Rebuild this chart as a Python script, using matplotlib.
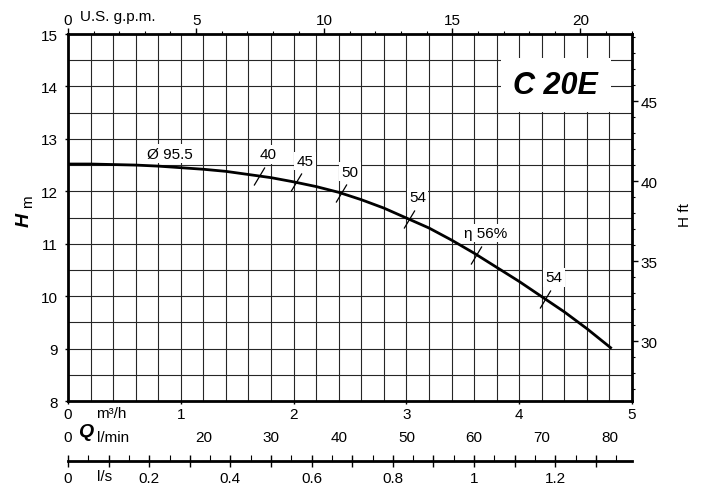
import numpy as np
import matplotlib
matplotlib.use("Agg")
import matplotlib.pyplot as plt
from matplotlib.ticker import FixedLocator, MultipleLocator, FuncFormatter

plt.rcParams['font.family'] = ['Liberation Sans', 'DejaVu Sans']
plt.rcParams['font.size'] = 11

# pump curve (Q in m3/h, H in m)
flow_m3h = [0, 0.2, 0.4, 0.6, 0.8, 1.0, 1.2, 1.4, 1.6, 1.8, 2.0, 2.2, 2.4,
            2.6, 2.8, 3.0, 3.2, 3.4, 3.6, 3.8, 4.0, 4.2, 4.4, 4.6, 4.82]
head_m = [12.52, 12.52, 12.51, 12.50, 12.48, 12.45, 12.42, 12.38, 12.32, 12.26,
          12.18, 12.09, 11.98, 11.84, 11.68, 11.49, 11.30, 11.07, 10.82, 10.55,
          10.28, 9.99, 9.70, 9.38, 9.0]

# efficiency marks on the curve
eff_flow = [1.69, 2.02, 2.42, 3.02, 3.62, 4.23]
eff_labels = ["40", "45", "50", "54", "η 56%", "54"]

impeller_label = "Ø 95.5"
impeller_flow = 0.9
model_name = "C 20E"

lmin_ticks = [0, 20, 30, 40, 50, 60, 70, 80]
gpm_ticks = [0, 5, 10, 15, 20]
ft_ticks = [30, 35, 40, 45]

W, H = 708, 489
fig = plt.figure(figsize=(W / 100, H / 100), dpi=100)
ax = fig.add_axes([68 / W, 1 - 402 / H, (632 - 68) / W, (402 - 35) / H])

ax.set_xlim(0, 5)
ax.set_ylim(8, 15)

# grid
for q in np.arange(0.2, 5.0, 0.2):
    ax.axvline(q, color='#262626', lw=0.8, zorder=1)
for h in np.arange(8.5, 15.0, 0.5):
    ax.axhline(h, color='#262626', lw=0.8, zorder=1)

ax.plot(flow_m3h, head_m, color='black', lw=2.0, zorder=4, solid_capstyle='butt')

# efficiency ticks + labels
eff_head = np.interp(eff_flow, flow_m3h, head_m)
ax.plot(eff_flow, eff_head, linestyle='none', marker=[(-0.6, -1), (0.6, 1)],
        ms=13, mec='black', mfc='none', mew=0.9, zorder=5)
for q, h, lab in zip(eff_flow, eff_head, eff_labels):
    ax.annotate(lab, (q, h), xytext=(6.5, 15.5), textcoords='offset points',
                ha='center', va='center', zorder=6,
                bbox=dict(boxstyle='square,pad=0.15', fc='white', ec='none'))

ax.annotate(impeller_label, (impeller_flow, np.interp(impeller_flow, flow_m3h, head_m)),
            xytext=(0, 9.5), textcoords='offset points', ha='center', va='center',
            zorder=6, bbox=dict(boxstyle='square,pad=0.15', fc='white', ec='none'))

ax.text(0.865, 0.861, model_name, transform=ax.transAxes, ha='center', va='center',
        fontsize=22, fontweight='bold', fontstyle='italic',
        zorder=6, bbox=dict(boxstyle='square,pad=0.4', fc='white', ec='none'))

for s in ax.spines.values():
    s.set_linewidth(2.0)
    s.set_zorder(7)

ax.set_xticks(range(0, 6))
ax.set_yticks(range(8, 16))
ax.tick_params(axis='x', length=2.5, width=1, pad=2)
ax.tick_params(axis='y', length=2.5, width=1, pad=5)

# top: U.S. g.p.m.
gpm = ax.secondary_xaxis('top', functions=(lambda q: q * 4.4029, lambda g: g / 4.4029))
gpm.xaxis.set_major_locator(FixedLocator(gpm_ticks))
gpm.xaxis.set_minor_locator(MultipleLocator(1))
gpm.tick_params(which='major', length=4, width=1, pad=1)
gpm.tick_params(which='minor', length=2.5, width=0.8)
gpm.spines['top'].set_visible(False)

# right: H ft
ft = ax.secondary_yaxis('right', functions=(lambda h: h * 3.28084, lambda f: f / 3.28084))
ft.yaxis.set_major_locator(FixedLocator(ft_ticks))
ft.yaxis.set_minor_locator(MultipleLocator(1))
ft.tick_params(which='major', length=4.5, width=1, pad=1.5)
ft.tick_params(which='minor', length=2.5, width=0.8)
ft.spines['right'].set_visible(False)

# l/min row
lmin = ax.secondary_xaxis(-0.071, functions=(lambda q: q * 1000 / 60, lambda l: l * 60 / 1000))
lmin.xaxis.set_major_locator(FixedLocator(lmin_ticks))
lmin.tick_params(length=0, pad=2)
lmin.spines['bottom'].set_visible(False)

# l/s row
ls = ax.secondary_xaxis(-0.163, functions=(lambda q: q / 3.6, lambda l: l * 3.6))
ls.xaxis.set_major_locator(MultipleLocator(0.1))
ls.xaxis.set_minor_locator(MultipleLocator(0.05))
ls.xaxis.set_major_formatter(FuncFormatter(
    lambda v, p: ('%g' % round(v, 1)) if round(v * 10) % 2 == 0 else ''))
ls.tick_params(which='major', direction='inout', length=8, width=1, pad=3)
ls.tick_params(which='minor', direction='in', length=4, width=0.8)
ls.spines['bottom'].set_linewidth(2.0)

# axis titles
def fx(px):
    return px / W

def fy(py):
    return 1 - py / H

fig.text(fx(80), fy(17), "U.S. g.p.m.", ha='left', va='center')
fig.text(fx(24), fy(220), "H", rotation=90, ha='center', va='center',
         fontsize=14, fontweight='bold', fontstyle='italic')
fig.text(fx(28), fy(202), "m", rotation=90, ha='center', va='center')
fig.text(fx(685), fy(215), "H ft", rotation=90, ha='center', va='center')
fig.text(fx(86), fy(433), "Q", ha='center', va='center',
         fontsize=14, fontweight='bold', fontstyle='italic')
fig.text(fx(96), fy(414), "m³/h", ha='left', va='center')
fig.text(fx(97), fy(438), "l/min", ha='left', va='center')
fig.text(fx(97), fy(477), "l/s", ha='left', va='center')

fig.savefig("out.png", dpi=100)
